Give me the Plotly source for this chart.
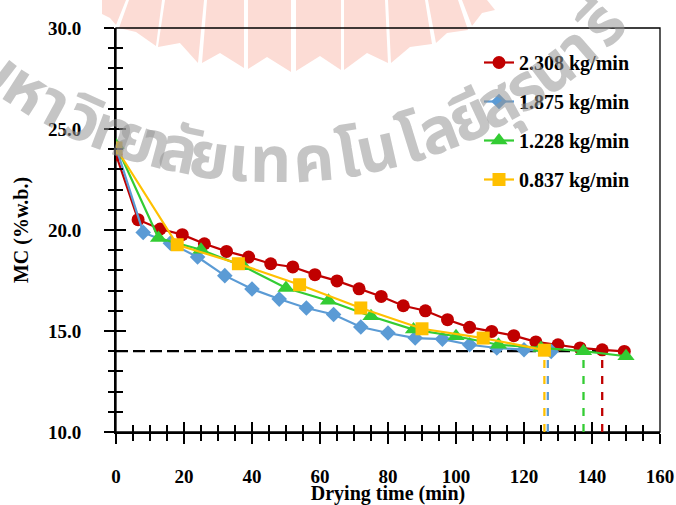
import math
import plotly.graph_objects as go

# Moisture content (% w.b.) vs drying time (min) for four air mass flow rates
time_2308 = [0, 6.5, 13, 19.5, 26, 32.5, 39, 45.5, 52, 58.5, 65, 71.5, 78, 84.5,
             91, 97.5, 104, 110.5, 117, 123.5, 130, 136.5, 143, 149.5]
mc_2308 = [23.73, 20.51, 20.05, 19.77, 19.32, 18.94, 18.66, 18.33, 18.17, 17.79,
           17.48, 17.09, 16.71, 16.25, 16.0, 15.56, 15.18, 14.98, 14.77, 14.46,
           14.32, 14.16, 14.07, 13.99]

time_1875 = [0, 8, 16, 24, 32, 40, 48, 56, 64, 72, 80, 88, 96, 104, 112, 120, 128]
mc_1875 = [24.1, 19.88, 19.35, 18.66, 17.74, 17.08, 16.58, 16.14, 15.82, 15.2,
           14.9, 14.65, 14.6, 14.32, 14.16, 14.07, 13.99]

time_1228 = [0, 12.5, 25, 37.5, 50, 62.5, 75, 87.5, 100, 112.5, 125, 137.5, 150]
mc_1228 = [24.2, 19.6, 19.02, 18.2, 17.13, 16.5, 15.73, 15.07, 14.74, 14.32,
           14.16, 14.0, 13.75]

time_0837 = [0, 18, 36, 54, 72, 90, 108, 126]
mc_0837 = [24.06, 19.27, 18.33, 17.29, 16.14, 15.11, 14.65, 14.05]

series_names = ["2.308 kg/min", "1.875 kg/min", "1.228 kg/min", "0.837 kg/min"]
# Time at which each flow rate reaches the target moisture content
time_to_target = [143, 127, 137.5, 126]
target_mc = 14.0

colors = ["#C00000", "#5B9BD5", "#33CC33", "#FFC000"]
symbols = ["circle", "diamond", "triangle-up", "square"]
marker_sizes = [13, 12, 15, 13]

FONT = "Liberation Serif"

fig = go.Figure()

# Target moisture level line
fig.add_trace(go.Scatter(
    x=[0, max(time_to_target)], y=[target_mc, target_mc], mode="lines",
    line=dict(color="black", width=2.3, dash="12px,5px"),
    showlegend=False, hoverinfo="skip"))

# Drop lines from the target level to the time axis
for t, c in zip(time_to_target, colors):
    fig.add_trace(go.Scatter(
        x=[t, t], y=[10, target_mc], mode="lines",
        line=dict(color=c, width=2.3, dash="8px,8px"),
        showlegend=False, hoverinfo="skip"))

all_times = [time_2308, time_1875, time_1228, time_0837]
all_mc = [mc_2308, mc_1875, mc_1228, mc_0837]
for i, (name, t, mc) in enumerate(zip(series_names, all_times, all_mc)):
    fig.add_trace(go.Scatter(
        x=t, y=mc, name=name, mode="lines+markers", legendgroup=name,
        line=dict(color=colors[i], width=2.2),
        marker=dict(symbol=symbols[i], size=marker_sizes[i], color=colors[i],
                    line=dict(width=0))))

# Empty trace so the overlay axes (inner half of the cross ticks) get drawn
fig.add_trace(go.Scatter(x=[], y=[], xaxis="x2", yaxis="y2",
                         showlegend=False, hoverinfo="skip"))

tickfont = dict(family=FONT, size=19, color="black", weight="bold")

# Page geometry used to place the watermark
W, H = 676, 505
L, R, T, B = 116, 16, 28, 73
PW, PH = W - L - R, H - T - B


def px(xp):
    return (xp - L) / PW


def py(yp):
    return (H - B - yp) / PH


# Watermark: fan of pennants
pennants = [
    [(102, 0), (126, 0), (116, 25), (110, 18), (102, 14)],
    [(129, 0), (162, 0), (156, 46), (136, 32), (119, 28)],
    [(165, 0), (204, 0), (198, 63), (180, 43), (158, 47)],
    [(207, 0), (244, 0), (244, 68), (220, 53), (202, 63)],
    [(248, 0), (291, 0), (291, 72), (267, 57), (248, 69)],
    [(296, 0), (341, 0), (341, 70), (320, 56), (296, 71)],
    [(344, 0), (385, 0), (388, 63), (367, 53), (344, 70)],
    [(388, 0), (425, 0), (432, 44), (410, 47), (391, 63)],
    [(428, 0), (458, 0), (468, 30), (447, 33), (436, 43)],
    [(462, 0), (487, 0), (495, 10), (482, 13), (472, 26)],
]
shapes = []
for poly in pennants:
    path = "M " + " L ".join(f"{px(a):.4f},{py(b):.4f}" for a, b in poly) + " Z"
    shapes.append(dict(type="path", path=path, xref="paper", yref="paper",
                       fillcolor="#FCDCD5", line=dict(width=0), layer="below"))

# Watermark: university name set along an arc (angle of each cluster)
clusters = ["ม", "ห", "า", "วิ", "ท", "ย", "า", "ลั", "ย", "เ", "ท", "ค", "โ",
            "น", "โ", "ล", "ยี", "สุ", "ร", "น", "า", "รี"]
arc_deg = [-37.3, -32.6, -28.6, -24.5, -20.6, -17.5, -14.9, -12.0, -8.2, -4.5,
           -0.5, 4.8, 9.2, 12.8, 17.2, 20.8, 25.0, 28.8, 32.8, 36.8, 41.0, 45.3]
wm_size = 64
cx, cy, rad = 275, -300, 463
annotations = []
for ch, a in zip(clusters, arc_deg):
    phi = math.radians(a)
    xx = cx + rad * math.sin(phi)
    yy = cy + rad * math.cos(phi)
    annotations.append(dict(
        text=ch, x=px(xx), y=py(yy), xref="paper", yref="paper",
        xanchor="center", yanchor="middle", showarrow=False,
        textangle=-a,
        font=dict(family="Noto Sans Thai, Loma, Tlwg Typo, sans-serif",
                  size=wm_size, color="rgba(150,150,150,0.55)", weight="bold")))

fig.update_layout(
    width=W, height=H,
    margin=dict(l=L, r=R, t=T, b=B, autoexpand=False),
    paper_bgcolor="white", plot_bgcolor="white",
    shapes=shapes + [dict(type="rect", xref="paper", yref="paper",
                          x0=0, x1=1, y0=0, y1=1,
                          line=dict(color="black", width=1.3), layer="below")],
    annotations=annotations,
    showlegend=True,
    legend=dict(x=px(479), y=py(43), xanchor="left", yanchor="top",
                bgcolor="rgba(0,0,0,0)", tracegroupgap=10,
                font=dict(family=FONT, size=20, color="black", weight="bold")),
    xaxis=dict(
        range=[0, 160], dtick=20, tick0=0, ticks="outside", ticklen=10,
        tickwidth=2, tickcolor="black", showline=True, linewidth=2,
        linecolor="black", showgrid=False, zeroline=False, automargin=False,
        minor=dict(dtick=5, ticks="outside", ticklen=7, tickwidth=1.8,
                   tickcolor="black", showgrid=False),
        tickfont=tickfont, ticklabelstandoff=16,
        title=dict(text="Drying time (min)", standoff=8,
                   font=dict(family=FONT, size=20, color="black", weight="bold"))),
    xaxis2=dict(
        range=[0, 160], overlaying="x", anchor="y2", side="bottom",
        dtick=20, tick0=0, ticks="inside", ticklen=10, tickwidth=2,
        tickcolor="black", showticklabels=False, showline=False,
        showgrid=False, zeroline=False, automargin=False,
        minor=dict(dtick=5, ticks="inside", ticklen=7, tickwidth=1.8,
                   tickcolor="black", showgrid=False)),
    yaxis=dict(
        range=[10, 30], dtick=5, tick0=10, ticks="outside", ticklen=10,
        tickwidth=2, tickcolor="black", showline=True, linewidth=2,
        linecolor="black", showgrid=False, zeroline=False, tickformat=".1f",
        automargin=False,
        minor=dict(dtick=1, ticks="outside", ticklen=6, tickwidth=1.8,
                   tickcolor="black", showgrid=False),
        tickfont=tickfont, ticklabelstandoff=19,
        title=dict(text="MC (%w.b.)", standoff=14,
                   font=dict(family=FONT, size=20, color="black", weight="bold"))),
    yaxis2=dict(
        range=[10, 30], overlaying="y", anchor="x2", side="left",
        dtick=5, tick0=10, ticks="inside", ticklen=10, tickwidth=2,
        tickcolor="black", showticklabels=False, showline=False,
        showgrid=False, zeroline=False, automargin=False,
        minor=dict(dtick=1, ticks="inside", ticklen=7, tickwidth=1.8,
                   tickcolor="black", showgrid=False)),
)

fig.write_html("out.html")
